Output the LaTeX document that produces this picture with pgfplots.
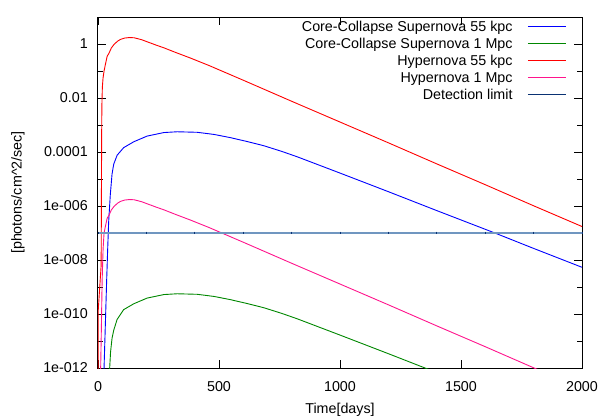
\documentclass[border=0pt]{standalone}
\usepackage{fontspec}
\setmainfont{Liberation Sans}
\usepackage{pgfplots}
\pgfplotsset{compat=1.18}
\definecolor{ccsn}{RGB}{0,0,255}
\definecolor{ccsnfar}{RGB}{0,135,0}
\definecolor{hyper}{RGB}{255,0,0}
\definecolor{hyperfar}{RGB}{255,20,140}
\definecolor{limitline}{RGB}{112,150,192}
\definecolor{limitnavy}{RGB}{10,50,115}

\begin{document}
\begin{tikzpicture}
% page margins round the axis box
\path (-98bp,-51bp) rectangle (501bp,368bp);
\begin{axis}[
  scale only axis, width=484bp, height=351bp,
  font=\fontsize{14.3bp}{17bp}\selectfont,
  xmin=0, xmax=2000,
  ymode=log, ymin=1e-12, ymax=10,
  xtick={0,500,1000,1500,2000},
  xticklabels={0,500,1000,1500,2000},
  ytick={1e-12,1e-10,1e-8,1e-6,1e-4,1e-2,1},
  yticklabels={1e-012,1e-010,1e-008,1e-006,0.0001,0.01,1},
  minor ytick={1e-11,1e-9,1e-7,1e-5,1e-3,1e-1},
  tick align=inside,
  major tick length=8bp, minor tick length=5bp,
  tick style={black, line width=0.8bp},
  axis line style={line width=1bp, black},
  xticklabel style={anchor=center, yshift=-18.5bp, inner sep=0pt},
  yticklabel style={anchor=east, xshift=-10bp, inner sep=0pt},
  xlabel={Time[days]},
  ylabel={[photons/cm\textasciicircum 2/sec]},
  every axis x label/.style={at={(axis description cs:0.5,0)}, yshift=-42bp, anchor=center},
  every axis y label/.style={at={(axis description cs:0,0.5)}, xshift=-80bp, rotate=90, anchor=center},
]
% core-collapse supernova, 55 kpc
\addplot[ccsn, line width=0.9bp] table {
0 1e-13
24 5.01e-13
30 3.16e-11
36 2.00e-9
40 2.51e-8
44 2.51e-7
48 1.00e-6
51 2.75e-6
58 1.51e-5
65 3.55e-5
79 7.59e-5
106 1.45e-4
148 2.40e-4
203 3.89e-4
272 5.25e-4
327 5.62e-4
410 5.37e-4
480 4.47e-4
548 3.39e-4
620 2.40e-4
686 1.70e-4
760 1.05e-4
824 6.61e-5
1000 1.66e-5
1200 3.39e-6
1400 6.76e-7
1640 1.00e-7
1800 2.69e-8
2000 5.37e-9
};
% core-collapse supernova, 1 Mpc
\addplot[ccsnfar, line width=0.9bp] table {
40 1e-14
47 6.31e-13
52 3.98e-12
58 1.26e-11
65 2.51e-11
79 6.31e-11
106 1.45e-10
148 2.40e-10
203 3.89e-10
272 5.25e-10
327 5.62e-10
410 5.37e-10
480 4.47e-10
548 3.39e-10
620 2.40e-10
686 1.70e-10
760 1.05e-10
824 6.61e-11
1000 1.66e-11
1200 3.39e-12
1400 6.76e-13
};
% hypernova, 55 kpc
\addplot[hyper, line width=0.9bp] table {
0 1e-13
1 1.38e-10
13 6.31e-9
14 1e-6
15 3.16e-4
16 5.01e-3
18 2.51e-2
21 5.62e-2
25 0.1
30 0.166
38 0.355
45 0.447
55 0.708
65 0.933
80 1.259
93 1.479
110 1.660
130 1.738
150 1.698
180 1.445
210 1.148
240 0.912
272 0.724
320 0.490
382 0.302
460 0.158
600 0.0457
800 7.59e-3
1000 1.29e-3
1200 2.19e-4
1400 3.63e-5
1600 6.17e-6
1800 1.02e-6
2000 1.74e-7
};
% hypernova, 1 Mpc
\addplot[hyperfar, line width=0.9bp] table {
10 3.16e-13
14 3.16e-11
17 1.58e-9
21 2.51e-8
25 1.0e-7
30 1.66e-7
38 3.55e-7
45 4.47e-7
55 7.08e-7
65 9.33e-7
80 1.259e-6
93 1.479e-6
110 1.660e-6
130 1.738e-6
150 1.698e-6
180 1.445e-6
210 1.148e-6
240 9.12e-7
272 7.24e-7
320 4.90e-7
382 3.02e-7
460 1.58e-7
600 4.57e-8
800 7.59e-9
1000 1.29e-9
1200 2.19e-10
1400 3.63e-11
1600 6.17e-12
1800 1.02e-12
2000 1.74e-13
};
% detection limit
\addplot[limitline, line width=1.6bp, mark=|, mark size=1.4bp,
  mark options={limitnavy, line width=0.8bp}] table {
0 1e-7
200 1e-7
400 1e-7
600 1e-7
800 1e-7
1000 1e-7
1200 1e-7
1400 1e-7
1600 1e-7
1800 1e-7
2000 1e-7
};
% legend, gnuplot style: right-aligned text, sample line on the right
\draw[ccsn, line width=0.9bp] (rel axis cs:0.8884,0.9724) -- (rel axis cs:0.9669,0.9724);
\node[anchor=base east, inner sep=0pt, yshift=-5bp] at (rel axis cs:0.857,0.9724) {Core-Collapse Supernova 55 kpc};
\draw[ccsnfar, line width=0.9bp] (rel axis cs:0.8884,0.9240) -- (rel axis cs:0.9669,0.9240);
\node[anchor=base east, inner sep=0pt, yshift=-5bp] at (rel axis cs:0.857,0.9240) {Core-Collapse Supernova 1 Mpc};
\draw[hyper, line width=0.9bp] (rel axis cs:0.8884,0.8766) -- (rel axis cs:0.9669,0.8766);
\node[anchor=base east, inner sep=0pt, yshift=-5bp] at (rel axis cs:0.857,0.8766) {Hypernova 55 kpc};
\draw[hyperfar, line width=0.9bp] (rel axis cs:0.8884,0.8282) -- (rel axis cs:0.9669,0.8282);
\node[anchor=base east, inner sep=0pt, yshift=-5bp] at (rel axis cs:0.857,0.8282) {Hypernova 1 Mpc};
\draw[limitnavy, line width=0.9bp] (rel axis cs:0.8884,0.7798) -- (rel axis cs:0.9669,0.7798);
\node[anchor=base east, inner sep=0pt, yshift=-5bp] at (rel axis cs:0.857,0.7798) {Detection limit};
\end{axis}
\end{tikzpicture}
\end{document}
